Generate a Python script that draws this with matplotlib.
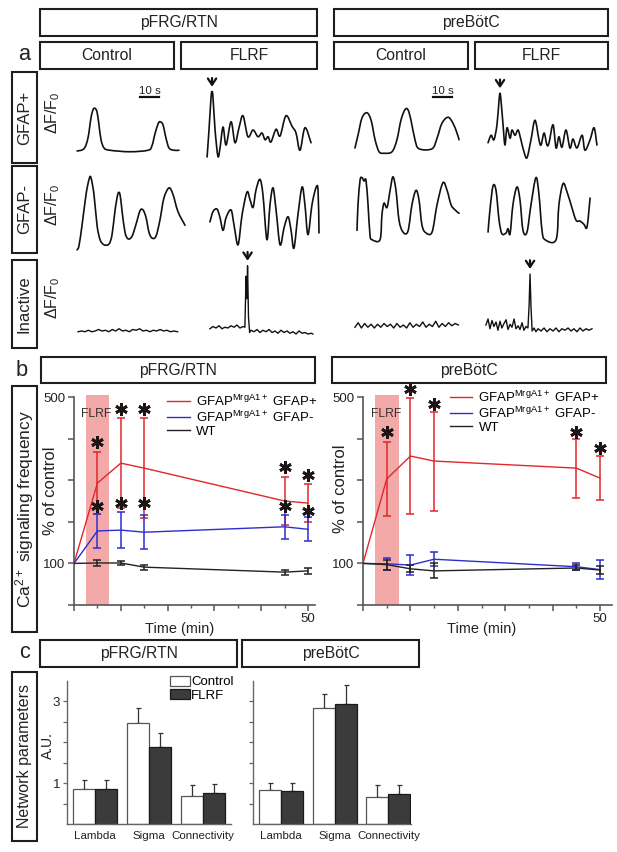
import numpy as np
import matplotlib
matplotlib.use("Agg")
import matplotlib.pyplot as plt
from matplotlib import font_manager
from matplotlib.patches import Rectangle, PathPatch
from matplotlib.path import Path

W, H = 617, 852

# horizontal text looks condensed in the source; use a narrow face if present
try:
    font_manager.findfont("Liberation Sans Narrow", fallback_to_default=False)
    HFONT, HK = "Liberation Sans Narrow", 1.0
except ValueError:
    HFONT, HK = "Liberation Sans", 0.87
VFONT = "Liberation Sans"
plt.rcParams["font.family"] = [HFONT, "DejaVu Sans"]
plt.rcParams["mathtext.default"] = "regular"

# ---------------- panel a: example traces (time s, normalised dF/F0) ----------------
gfap_pos_pfrg_ctrl = [(1.1, .12), (4.7, .15), (6.8, .29), (8.4, .56), (9.5, .67), (10.5, .69),
                      (11.6, .64), (12.6, .47), (13.7, .27), (15.3, .16), (18.4, .13), (28.9, .11),
                      (38.4, .13), (40.5, .19), (42.1, .35), (43.7, .48), (44.7, .51), (46.3, .47),
                      (47.9, .29), (49.5, .16), (52.1, .13), (54.7, .13)]
gfap_pos_pfrg_flrf = [(1.1, .04), (2.1, .40), (3.2, .84), (3.7, .91), (4.2, .84), (5.3, .40),
                      (6.8, .05), (7.9, .16), (9.5, .44), (11.1, .20), (13.7, .51), (15.8, .23),
                      (17.9, .43), (20.0, .59), (22.6, .31), (25.3, .40), (27.9, .31), (30.0, .36),
                      (31.6, .27), (33.2, .31), (34.7, .24), (37.4, .41), (39.5, .32), (42.6, .59),
                      (45.8, .45), (47.9, .36), (50.0, .13), (52.6, .43), (55.8, .23)]
gfap_pos_pre_ctrl = [(2.6, .16), (4.2, .33), (6.3, .56), (8.9, .63), (11.1, .53), (13.2, .27),
                     (15.3, .11), (17.9, .09), (22.1, .11), (24.7, .27), (26.8, .53), (28.9, .67),
                     (30.5, .67), (32.1, .53), (34.2, .27), (36.3, .15), (43.2, .15), (45.8, .29),
                     (48.4, .49), (51.6, .57), (54.2, .49), (56.3, .36), (57.4, .27)]
gfap_pos_pre_flrf = [(1.6, .23), (3.2, .33), (4.7, .27), (6.3, .47), (7.4, .80), (7.9, .89),
                     (8.4, .80), (9.5, .47), (10.5, .20), (11.6, .43), (13.2, .29), (14.2, .40),
                     (15.8, .33), (17.4, .40), (18.9, .27), (20.5, .11), (22.1, .03), (24.2, .27),
                     (26.3, .53), (28.4, .27), (29.5, .20), (31.1, .36), (32.6, .20), (33.7, .23),
                     (35.8, .47), (37.4, .16), (38.9, .31), (40.5, .17), (42.6, .40), (44.7, .16),
                     (46.3, .28), (48.4, .16), (51.1, .33), (52.6, .13), (55.3, .27), (57.4, .43),
                     (58.9, .20)]

gfap_neg_pfrg_ctrl = [(1.1, .06), (2.1, .11), (3.7, .35), (5.8, .71), (7.4, .89), (8.4, .91),
                      (10.0, .71), (11.6, .35), (13.2, .18), (15.3, .12), (17.9, .13), (19.5, .24),
                      (21.1, .53), (22.6, .72), (23.7, .71), (24.7, .53), (26.3, .27), (27.9, .19),
                      (30.0, .22), (32.1, .36), (34.2, .52), (35.8, .53), (37.4, .44), (38.9, .27),
                      (40.5, .20), (42.6, .22), (44.7, .41), (46.8, .67), (49.5, .79), (51.6, .71),
                      (54.2, .51), (57.9, .35)]
gfap_neg_pfrg_flrf = [(2.6, .39), (4.2, .51), (6.3, .54), (7.9, .44), (9.5, .29), (11.1, .44),
                      (13.7, .53), (15.3, .35), (17.4, .12), (19.5, .47), (22.1, .74), (23.7, .65),
                      (25.3, .56), (26.8, .76), (28.9, .89), (30.5, .71), (32.6, .18), (34.2, .59),
                      (35.8, .79), (37.4, .53), (39.5, .12), (41.6, .32), (43.7, .45), (45.3, .29),
                      (46.8, .08), (48.9, .47), (51.1, .80), (52.6, .59), (54.2, .24), (56.3, .59),
                      (58.4, .79), (59.5, .76), (60.0, .26)]
gfap_neg_pre_ctrl = [(3.7, .29), (4.2, .59), (5.3, .88), (6.3, .91), (7.4, .87), (8.4, .88),
                     (9.5, .59), (10.5, .24), (11.6, .18), (15.8, .18), (16.8, .47), (17.9, .61),
                     (19.5, .56), (21.1, .76), (22.6, .92), (24.2, .76), (25.8, .41), (27.9, .27),
                     (30.5, .28), (32.6, .59), (34.7, .76), (36.3, .65), (37.9, .35), (40.0, .26),
                     (43.2, .27), (45.8, .59), (48.9, .85), (51.1, .76), (53.2, .59), (55.3, .53),
                     (57.4, .49)]
gfap_neg_pre_flrf = [(1.6, .27), (2.6, .53), (4.2, .81), (5.8, .76), (7.4, .41), (8.9, .25),
                     (11.1, .26), (12.1, .31), (13.2, .25), (14.7, .59), (16.8, .80), (18.4, .65),
                     (20.0, .29), (22.1, .27), (24.2, .59), (26.8, .91), (28.4, .71), (30.0, .29),
                     (31.6, .18), (37.4, .18), (38.9, .59), (41.1, .84), (43.2, .74), (45.3, .59),
                     (47.9, .41), (50.0, .40), (52.1, .36), (53.7, .33), (55.3, .67)]

inactive_pfrg_ctrl = [(1.6, .11), (3.4, .12), (5.2, .11), (7.0, .13), (8.8, .11), (10.6, .12),
                      (12.4, .14), (14.2, .12), (16.0, .13), (17.8, .11), (19.6, .14), (21.4, .12),
                      (23.2, .15), (25.0, .12), (26.8, .13), (28.6, .11), (30.4, .14), (32.2, .13),
                      (34.0, .15), (35.8, .12), (37.6, .13), (39.4, .11), (41.2, .13), (43.0, .12),
                      (44.8, .14), (46.6, .12), (48.4, .13), (50.2, .11), (52.0, .12), (54.0, .11)]
inactive_pfrg_flrf = [(2.6, .15), (4.2, .18), (5.8, .16), (7.4, .19), (8.9, .15), (10.5, .17),
                      (12.1, .16), (13.7, .19), (15.3, .17), (16.8, .20), (18.4, .16), (20.0, .18),
                      (21.0, .17), (21.6, .85), (22.0, .55), (22.4, .99), (22.9, .30), (23.5, .10),
                      (24.2, .13), (25.8, .11), (27.4, .14), (28.9, .10), (30.5, .13), (32.1, .11),
                      (33.7, .14), (35.3, .10), (36.8, .12), (38.4, .09), (40.0, .13), (41.6, .10),
                      (43.2, .12), (44.7, .09), (46.3, .11), (47.9, .08), (49.5, .12), (51.1, .09),
                      (52.6, .10), (54.2, .08), (55.8, .09), (56.8, .08)]
inactive_pre_ctrl = [(2.6, .17), (4.3, .23), (6.0, .16), (7.7, .22), (9.4, .17), (11.1, .21),
                     (12.8, .16), (14.5, .21), (16.2, .17), (17.9, .22), (19.6, .18), (21.3, .21),
                     (23.0, .16), (24.7, .22), (26.4, .17), (28.1, .20), (29.8, .16), (31.5, .23),
                     (33.2, .17), (34.9, .21), (36.6, .18), (38.3, .24), (40.0, .17), (41.7, .21),
                     (43.4, .18), (45.1, .25), (46.8, .17), (48.5, .22), (50.2, .18), (51.9, .23),
                     (53.6, .19), (55.3, .22), (57.0, .20)]
inactive_pre_flrf = [(0.5, .20), (1.6, .28), (2.6, .15), (3.7, .26), (4.7, .18), (5.8, .24),
                     (6.8, .13), (7.9, .25), (8.9, .16), (10.0, .22), (11.1, .27), (12.1, .14),
                     (13.2, .21), (14.2, .17), (15.3, .28), (16.3, .15), (17.4, .19), (18.4, .14),
                     (19.5, .23), (20.5, .13), (21.6, .18), (22.6, .16), (23.2, .45), (23.7, .88),
                     (24.2, .45), (24.8, .12), (25.8, .16), (26.8, .11), (27.9, .15), (29.5, .12),
                     (31.1, .16), (32.6, .11), (34.2, .15), (35.8, .12), (37.4, .16), (38.9, .11),
                     (40.5, .15), (42.1, .13), (43.7, .16), (45.3, .12), (46.8, .15), (48.4, .11),
                     (50.0, .16), (51.6, .12), (53.2, .15), (54.7, .13), (56.3, .15)]

traces = [[gfap_pos_pfrg_ctrl, gfap_pos_pfrg_flrf, gfap_pos_pre_ctrl, gfap_pos_pre_flrf],
          [gfap_neg_pfrg_ctrl, gfap_neg_pfrg_flrf, gfap_neg_pre_ctrl, gfap_neg_pre_flrf],
          [inactive_pfrg_ctrl, inactive_pfrg_flrf, inactive_pre_ctrl, inactive_pre_flrf]]
row_names = ["GFAP+", "GFAP-", "Inactive"]
# stimulus arrows: (row, col, time s)
arrows = [(0, 1, 3.7), (0, 3, 7.9), (2, 1, 22.4), (2, 3, 23.7)]

# ---------------- panel b: Ca2+ signalling frequency (% of control) ----------------
times = [0, 5, 10, 15, 45, 50]
pfrg_pos = [100, 293, 341, 329, 250, 245]
pfrg_pos_err = [0, 75, 109, 120, 58, 46]
pfrg_neg = [100, 178, 180, 175, 188, 182]
pfrg_neg_err = [0, 40, 43, 41, 29, 29]
pfrg_wt = [100, 101, 101, 91, 79, 82]
pfrg_wt_err = [0, 8, 5, 6, 6, 8]
pre_pos = [100, 303, 358, 346, 329, 305]
pre_pos_err = [0, 88, 140, 119, 71, 53]
pre_neg = [100, 99, 96, 110, 92, 85]
pre_neg_err = [0, 14, 25, 17, 9, 22]
pre_wt = [100, 97, 87, 82, 89, 84]
pre_wt_err = [0, 12, 8, 18, 6, 10]
star_times = [5, 10, 15, 45, 50]
pfrg_star_hi = [392, 471, 471, 332, 313]
pfrg_star_lo = [238, 245, 245, 238, 226]
pre_star_hi = [416, 519, 483, 416, 377]
flrf_window = (2.5, 7.5)
series_labels = ["GFAP$^{MrgA1+}$ GFAP+", "GFAP$^{MrgA1+}$ GFAP-", "WT"]

# ---------------- panel c: network parameters ----------------
params = ["Lambda", "Sigma", "Connectivity"]
pfrg_ctrl = [0.85, 2.46, 0.68]
pfrg_ctrl_err = [0.22, 0.37, 0.27]
pfrg_flrf = [0.86, 1.88, 0.76]
pfrg_flrf_err = [0.21, 0.34, 0.22]
pre_ctrl = [0.83, 2.85, 0.66]
pre_ctrl_err = [0.17, 0.32, 0.29]
pre_flrf = [0.80, 2.93, 0.73]
pre_flrf_err = [0.20, 0.48, 0.22]

RED, BLUE, BLACK = "#e3262b", "#2e2ed0", "#222222"
PINK = "#f4a9a9"
EDGE = "#1e1e1e"

fig = plt.figure(figsize=(W / 100, H / 100), dpi=100)


def px_axes(x0, y0, x1, y1):
    return fig.add_axes([x0 / W, 1 - y1 / H, (x1 - x0) / W, (y1 - y0) / H])


def smooth_path(t, v):
    # Catmull-Rom style Bezier through the read points (rendering only)
    pts = np.column_stack([t, v])
    n = len(pts)
    verts, codes = [pts[0]], [Path.MOVETO]
    for i in range(n - 1):
        p0, p1 = pts[max(i - 1, 0)], pts[i]
        p2, p3 = pts[i + 1], pts[min(i + 2, n - 1)]
        verts += [p1 + (p2 - p0) / 6, p2 - (p3 - p1) / 6, p2]
        codes += [Path.CURVE4] * 3
    return Path(verts, codes)


ov = px_axes(0, 0, W, H)
ov.set_xlim(0, W)
ov.set_ylim(H, 0)
ov.axis("off")


def box(x0, y0, x1, y1, text, size, vertical=False):
    ov.add_patch(Rectangle((x0, y0), x1 - x0, y1 - y0, fill=False, lw=1.5, ec=EDGE))
    if vertical:
        ov.text((x0 + x1) / 2, (y0 + y1) / 2, text, rotation=90, ha="center", va="center",
                fontsize=size, family=VFONT, color="#222")
    else:
        ov.text((x0 + x1) / 2, (y0 + y1) / 2, text, ha="center", va="center",
                fontsize=size * HK, color="#222")


# ---- panel a headers ----
box(40, 9, 317, 36, "pFRG/RTN", 13)
box(334, 9, 608, 36, "preBötC", 13)
for x0, x1, name in [(40, 174, "Control"), (181, 317, "FLRF"), (334, 468, "Control"), (475, 608, "FLRF")]:
    box(x0, 42, x1, 69, name, 13)
ov.text(24, 55, "a", ha="center", va="center", fontsize=18 * HK, color="#222")

rows_px = [(85, 160), (170, 255), (265, 340)]
row_boxes = [(72, 163), (166, 253), (260, 348)]
dff_y = [113, 205, 298]
cols_x0 = [75, 205, 350, 485]
cell_w = 125
px_per_s = 1.9

cells = {}
for r, (top, bot) in enumerate(rows_px):
    box(12, row_boxes[r][0], 37, row_boxes[r][1], row_names[r], 12, vertical=True)
    ov.text(53, dff_y[r], "ΔF/F$_0$", rotation=90, ha="center", va="center",
            fontsize=11.5, family=VFONT, color="#222")
    for c, x0 in enumerate(cols_x0):
        ax = px_axes(x0, top, x0 + cell_w, bot)
        ax.set_xlim(0, cell_w / px_per_s)
        ax.set_ylim(0, 1)
        ax.axis("off")
        t, v = np.array(traces[r][c]).T
        if r < 2:
            ax.add_patch(PathPatch(smooth_path(t, v), fill=False, lw=1.2, ec="#111",
                                   joinstyle="round", capstyle="round"))
        else:
            ax.plot(t, v, color="#111", lw=1.0, solid_joinstyle="round")
        cells[(r, c)] = ax

for r, c, ts in arrows:
    ax = cells[(r, c)]
    t, v = np.array(traces[r][c]).T
    peak = v[np.argmin(np.abs(t - ts))]
    ax.annotate("", xy=(ts, peak + 0.03), xytext=(ts, peak + 0.22), annotation_clip=False,
                arrowprops=dict(arrowstyle="->,head_length=0.45,head_width=0.3", lw=1.6, color="#111"))

# 10 s scale bars
for c, t0 in [(0, 34.2), (2, 43.7)]:
    ax = cells[(0, c)]
    ax.plot([t0, t0 + 10], [0.84, 0.84], color="#111", lw=1.6, clip_on=False)
    ax.text(t0 + 5, 0.86, "10 s", ha="center", va="bottom", fontsize=9.5 * HK, color="#222")

# ---- panel b ----
box(41, 357, 315, 383, "pFRG/RTN", 13)
box(332, 357, 606, 383, "preBötC", 13)
box(12, 386, 37, 632, "Ca$^{2+}$ signaling frequency", 12.5, vertical=True)
ov.text(22, 370, "b", ha="center", va="center", fontsize=18 * HK, color="#222")


def freq_panel(ax, xmax, pos, pos_err, neg, neg_err, wt, wt_err, stars, leg_x, leg_y):
    ax.axvspan(*flrf_window, ymin=0, ymax=1.012, color=PINK, lw=0, zorder=0, clip_on=False)
    handles = []
    for y, e, col in [(pos, pos_err, RED), (neg, neg_err, BLUE), (wt, wt_err, BLACK)]:
        h, = ax.plot(times, y, color=col, lw=1.0, zorder=3)
        ax.errorbar(times[1:], y[1:], yerr=e[1:], fmt="none", ecolor=col, elinewidth=1.1,
                    capsize=2.8, capthick=1.1, zorder=3, clip_on=False)
        handles.append(h)
    for hi in stars:
        ax.plot(star_times, hi, ls="none", marker=(6, 2, 0), ms=9, mew=2.0,
                color="#1d1414", zorder=4, clip_on=False)
    ax.text(4.8, 458, "FLRF", ha="center", va="center", fontsize=10 * HK, color="#333", zorder=2)
    ax.set_xlim(0, xmax)
    ax.set_ylim(0, 500)
    ax.set_yticks([0, 100, 200, 300, 400, 500])
    ax.set_yticklabels(["", "100", "", "", "", "500"])
    ax.set_xticks([0, 10, 20, 30, 40, 50])
    ax.set_xticklabels(["", "", "", "", "", "50"])
    ax.set_xticks([5, 15, 25, 35, 45], minor=True)
    ax.tick_params(which="major", length=4, width=1.1, color="#555", labelsize=11 * HK,
                   labelcolor="#222", pad=2)
    ax.tick_params(which="minor", length=2.5, width=1.0, color="#555")
    for s in ["top", "right"]:
        ax.spines[s].set_visible(False)
    for s in ["left", "bottom"]:
        ax.spines[s].set_color("#555")
        ax.spines[s].set_linewidth(1.2)
    ax.set_xlabel("Time (min)", fontsize=12 * HK, color="#222")
    ax.set_ylabel("% of control", fontsize=12, family=VFONT, color="#222")
    ax.legend(handles, series_labels, loc="upper left", bbox_to_anchor=(leg_x, leg_y),
              frameon=False, handlelength=1.7, handletextpad=0.45, labelspacing=0.05,
              borderpad=0, borderaxespad=0, prop=dict(size=11 * HK))


ax_b1 = px_axes(74, 397, 315, 605)
freq_panel(ax_b1, 51.5, pfrg_pos, pfrg_pos_err, pfrg_neg, pfrg_neg_err, pfrg_wt, pfrg_wt_err,
           [pfrg_star_hi, pfrg_star_lo], 0.386, 1.015)
ax_b1.yaxis.set_label_coords(-0.065, 0.55)
ax_b1.xaxis.set_label_coords(0.44, -0.08)

ax_b2 = px_axes(363, 397, 612, 605)
freq_panel(ax_b2, 52.5, pre_pos, pre_pos_err, pre_neg, pre_neg_err, pre_wt, pre_wt_err,
           [pre_star_hi], 0.349, 1.035)
ax_b2.yaxis.set_label_coords(-0.06, 0.56)
ax_b2.xaxis.set_label_coords(0.478, -0.08)

# ---- panel c ----
box(40, 640, 237, 667, "pFRG/RTN", 13)
box(242, 640, 419, 667, "preBötC", 13)
box(12, 672, 37, 841, "Network parameters", 11.5, vertical=True)
ov.text(25, 653, "c", ha="center", va="center", fontsize=18 * HK, color="#222")


def bar_panel(ax, ctrl, ctrl_err, flrf, flrf_err, xmax, labels_on):
    x = np.arange(len(params))
    w = 0.41
    zeros = [0] * len(params)
    b1 = ax.bar(x - w / 2, ctrl, w, color="white", edgecolor="#555", lw=0.9, zorder=2)
    b2 = ax.bar(x + w / 2, flrf, w, color="#3b3b3b", edgecolor="#1a1a1a", lw=0.9, zorder=2)
    ax.errorbar(x - w / 2, ctrl, yerr=[zeros, ctrl_err], fmt="none", ecolor="#333",
                elinewidth=0.9, capsize=1.8, capthick=0.9, zorder=1)
    ax.errorbar(x + w / 2, flrf, yerr=[zeros, flrf_err], fmt="none", ecolor="#333",
                elinewidth=0.9, capsize=1.8, capthick=0.9, zorder=1)
    ax.set_xlim(-0.52, xmax)
    ax.set_ylim(0, 3.5)
    ax.set_yticks([0.5, 1, 1.5, 2, 2.5, 3])
    ax.set_yticklabels(["", "1", "", "", "", "3"] if labels_on else [""] * 6)
    ax.set_xticks(x)
    ax.set_xticklabels(params)
    ax.tick_params(axis="x", length=0, pad=5, labelsize=9.5 * HK, labelcolor="#222")
    ax.tick_params(axis="y", length=3, width=0.9, color="#666", labelsize=11 * HK,
                   labelcolor="#222", pad=2)
    for s in ["top", "right"]:
        ax.spines[s].set_visible(False)
    for s in ["left", "bottom"]:
        ax.spines[s].set_color("#666")
        ax.spines[s].set_linewidth(1.0)
    return b1, b2


ax_c1 = px_axes(67, 681, 231, 824)
b1, b2 = bar_panel(ax_c1, pfrg_ctrl, pfrg_ctrl_err, pfrg_flrf, pfrg_flrf_err, 2.52, True)
ax_c1.set_ylabel("A.U.", fontsize=10, family=VFONT, color="#222")
ax_c1.yaxis.set_label_coords(-0.075, 0.55)
ax_c1.legend([b1, b2], ["Control", "FLRF"], loc="upper left", bbox_to_anchor=(0.63, 1.035),
             frameon=False, handlelength=1.45, handleheight=0.75, handletextpad=0.1,
             labelspacing=0.05, borderpad=0, borderaxespad=0, prop=dict(size=11 * HK))

ax_c2 = px_axes(253, 681, 411, 824)
bar_panel(ax_c2, pre_ctrl, pre_ctrl_err, pre_flrf, pre_flrf_err, 2.42, False)

fig.savefig("out.png", dpi=100)
